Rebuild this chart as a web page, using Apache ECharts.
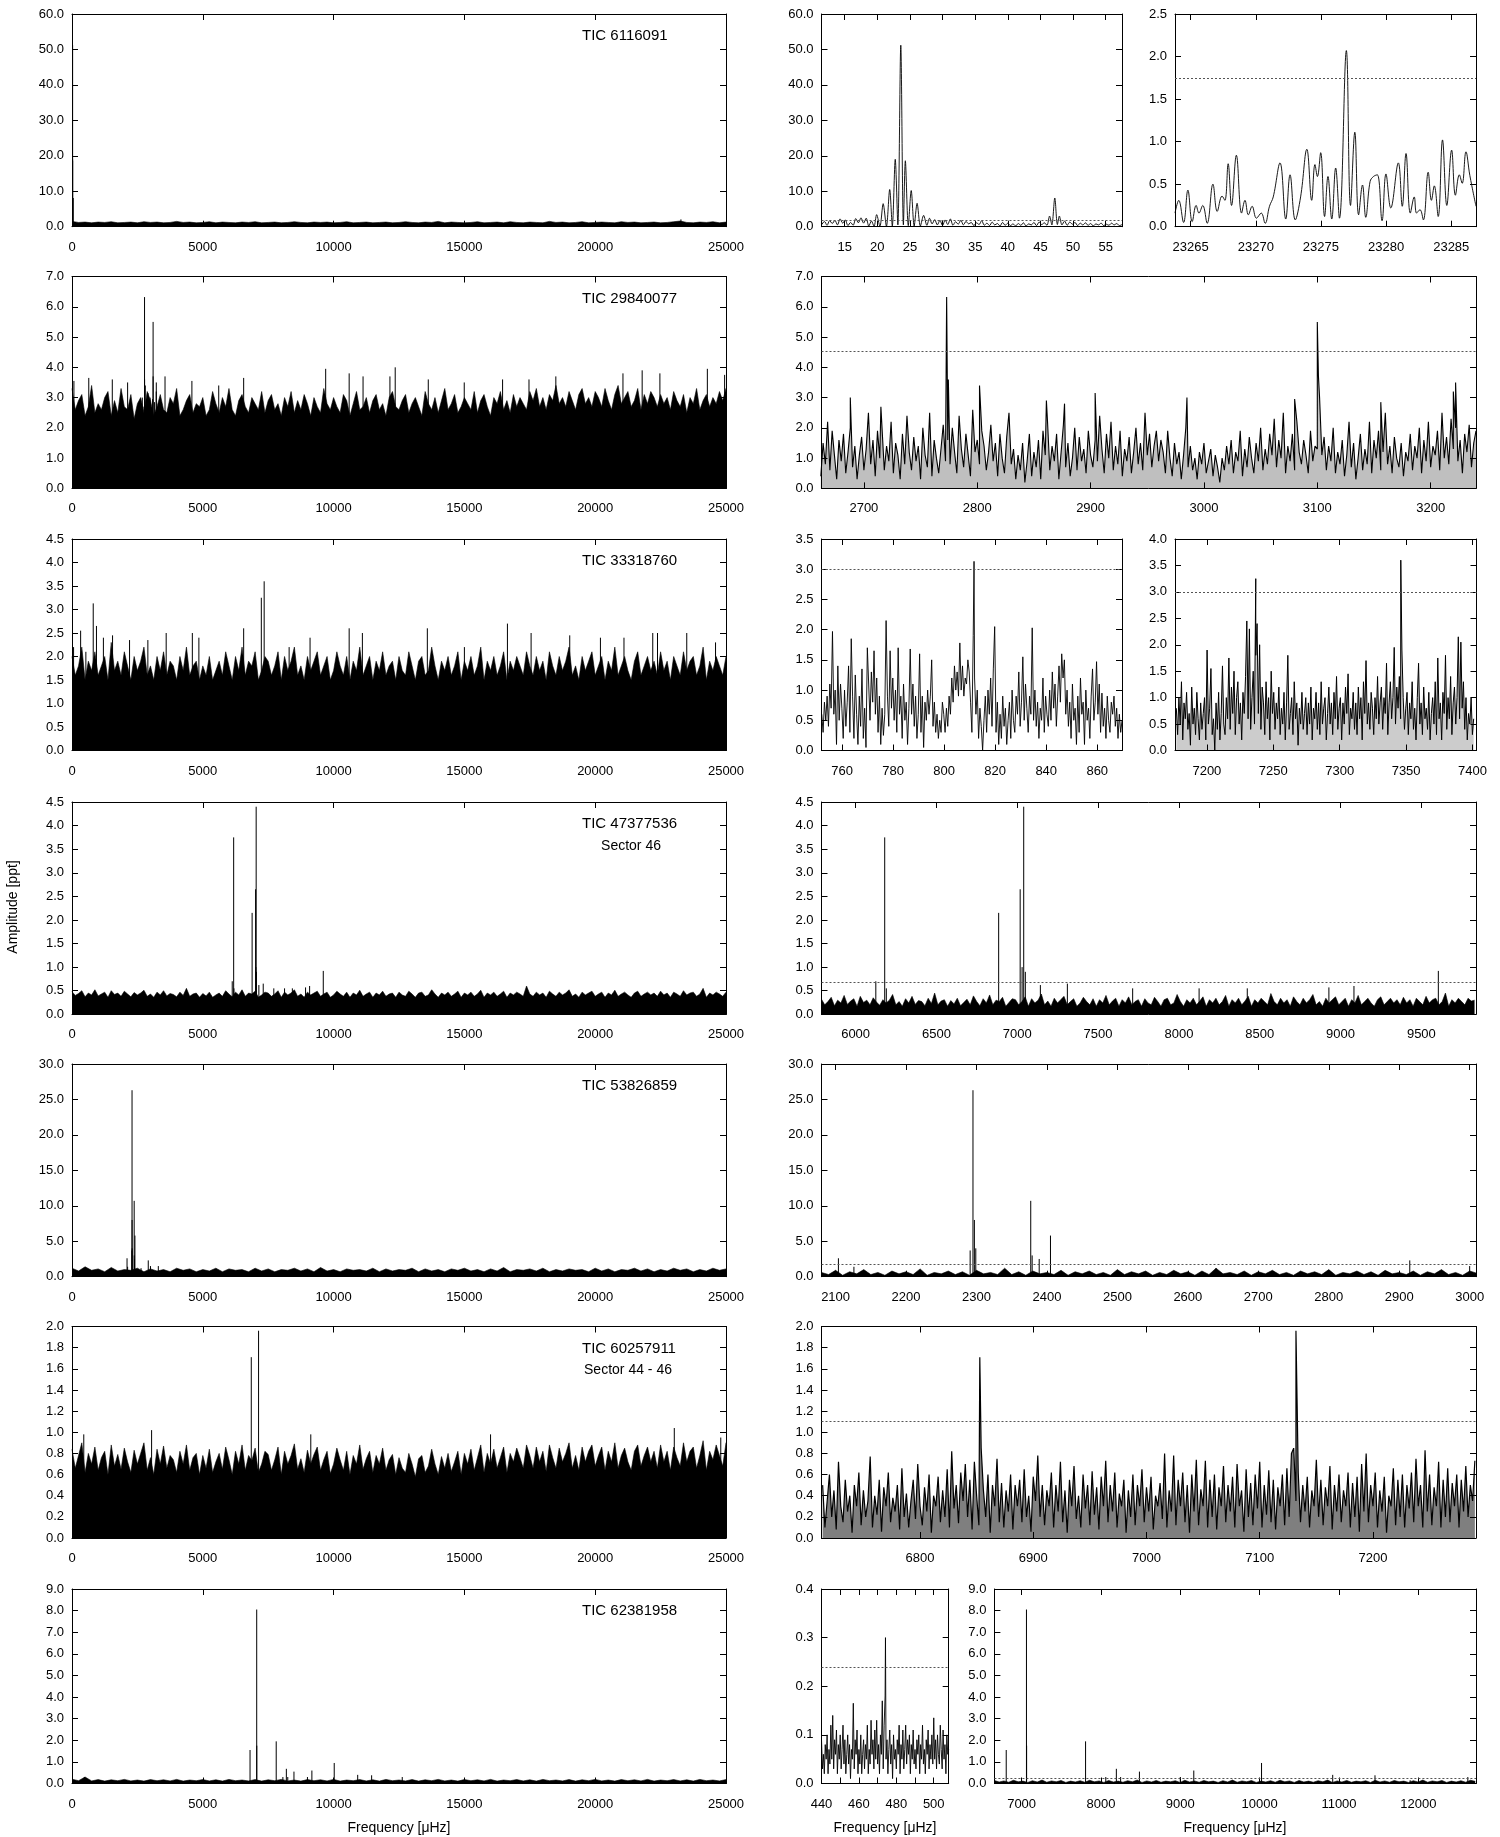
<!DOCTYPE html>
<html>
<head>
<meta charset="utf-8">
<title>Amplitude spectra</title>
<script src="https://cdn.jsdelivr.net/npm/echarts@6/dist/echarts.min.js"></script>
<style>
  html, body { margin: 0; padding: 0; background: #fff; }
  #chart { width: 1500px; height: 1837px; }
</style>
</head>
<body>
<div id="chart"></div>
<script>
// tick labels
var ticksFull = [0, 5000, 10000, 15000, 20000, 25000];
var ticks1a = [15, 20, 25, 30, 35, 40, 45, 50, 55];
var ticks1b = [23265, 23270, 23275, 23280, 23285];
var ticks2r = [2700, 2800, 2900, 3000, 3100, 3200];
var ticks3a = [760, 780, 800, 820, 840, 860];
var ticks3b = [7200, 7250, 7300, 7350, 7400];
var ticks4r = [6000, 6500, 7000, 7500, 8000, 8500, 9000, 9500];
var ticks5r = [2100, 2200, 2300, 2400, 2500, 2600, 2700, 2800, 2900, 3000];
var ticks6r = [6800, 6900, 7000, 7100, 7200];
var ticks7a = [440, 450, 460, 470, 480, 490, 500];
var labels7a = [440, 460, 480, 500];
var ticks7b = [7000, 8000, 9000, 10000, 11000, 12000];

// star names
var stars = ['TIC 6116091', 'TIC 29840077', 'TIC 33318760', 'TIC 47377536', 'TIC 53826859', 'TIC 60257911', 'TIC 62381958'];

// detection thresholds (dotted lines)
var thr1a = 1.88, thr1b = 1.75, thr2 = 4.53, thr3a = 3.0, thr3b = 3.0, thr4 = 0.67, thr5 = 1.7, thr6 = 1.1, thr7a = 0.243, thr7b = 0.23;

// ---- TIC 6116091 ----
var r1Env = [1.5,1.2,1.3,1.1,1.3,1.2,1.4,1.1,1.2,1.3,1.1,1.4,1.2,1.3,1.1,1.2,1.5,1.2,1.3,1.1,
  1.2,1.4,1.1,1.3,1.2,1.1,1.3,1.2,1.4,1.1,1.2,1.3,1.1,1.2,1.4,1.2,1.1,1.3,1.2,1.3,
  1.1,1.2,1.4,1.1,1.2,1.3,1.1,1.2,1.3,1.1,1.2,1.4,1.2,1.1,1.3,1.2,1.5,1.1,1.3,1.2,
  1.1,1.2,1.4,1.1,1.2,1.3,1.1,1.4,1.2,1.1,1.3,1.2,1.1,1.5,1.2,1.3,1.1,1.2,1.4,1.1,
  1.2,1.3,1.2,1.1,1.4,1.2,1.3,1.1,1.2,1.3,1.1,1.2,1.4,1.6,1.2,1.1,1.3,1.2,1.4,1.1,1.3];
var peaks1 = [[22.75,19.0],[23.6,51.2],[24.3,18.6],[47.2,8.1],[23277,2.06]];
var r1aF = [11.5,11.9,12.3,12.7,13.1,13.5,13.9,14.3,14.7,15.1,15.5,15.9,16.3,16.7,17.1,17.5,17.9,18.3,18.7,19.1,19.5,
  19.9,20.4,20.9,21.4,21.9,22.3,22.75,23.15,23.6,24.0,24.3,24.75,25.2,25.65,26.1,26.6,27.1,27.6,
  28.0,28.4,28.8,29.2,29.6,30.0,30.4,30.8,31.2,31.6,32.0,32.4,32.8,33.2,33.6,34.0,34.4,34.8,35.2,35.6,36.0,36.4,36.8,37.2,37.6,38.0,
  38.4,38.8,39.2,39.6,40.0,40.4,40.8,41.2,41.6,42.0,42.4,42.8,43.2,43.6,44.0,44.4,44.8,45.2,45.6,46.0,46.4,
  46.75,47.2,47.6,47.9,48.3,48.7,49.1,49.5,49.9,50.3,50.7,51.1,51.5,51.9,52.3,52.7,53.1,53.5,53.9,54.3,54.7,55.1,55.5,55.9,56.3,56.7,57.1,57.5];
var r1aA = [0.6,1.5,0.4,1.7,0.9,1.8,0.5,2.2,1.0,1.9,0.3,1.2,0.4,2.3,1.1,2.5,1.0,2.4,0.2,1.6,0.1,
  3.4,0.1,6.5,0.1,10.5,0.2,19.0,0.5,51.2,0.5,18.6,0.3,10.2,0.2,6.6,0.2,3.2,0.4,
  2.4,0.8,2.0,0.5,1.8,0.3,1.9,0.6,2.2,0.4,1.4,0.7,1.8,0.5,1.5,0.8,1.2,0.3,1.1,0.6,1.7,0.4,1.0,0.3,1.3,0.5,
  0.9,0.2,1.2,0.4,1.0,0.3,0.8,0.2,0.9,0.4,1.1,0.2,0.8,0.5,1.2,0.3,1.3,0.6,1.1,0.4,3.0,
  0.5,8.1,0.6,3.0,0.5,1.6,0.4,1.3,0.7,1.2,0.3,1.0,0.5,1.1,0.4,0.9,0.2,0.8,0.5,1.0,0.3,0.7,0.4,1.0,0.5,0.9,0.3,0.6];
var r1bF = [23263.80,23264.09,23264.46,23264.79,23265.12,23265.42,23265.64,23265.93,23266.27,23266.71,23267.04,23267.41,
  23267.63,23267.88,23268.14,23268.51,23268.91,23269.17,23269.43,23269.72,23270.05,23270.42,23270.72,23271.05,23271.34,
  23271.86,23272.30,23272.63,23273.03,23273.44,23273.92,23274.29,23274.54,23274.73,23274.98,23275.28,23275.54,23275.83,
  23276.13,23276.42,23276.95,23277.27,23277.60,23277.89,23278.19,23278.44,23278.77,23279.03,23279.33,23279.69,23279.99,
  23280.36,23280.94,23281.24,23281.53,23281.86,23282.16,23282.34,23282.60,23282.86,23283.23,23283.48,23283.70,23284.00,
  23284.33,23284.66,23285.03,23285.32,23285.62,23285.84,23286.13,23286.43,23286.90];
var r1bA = [0.16,0.31,0.05,0.43,0.06,0.25,0.16,0.25,0.04,0.50,0.18,0.36,
  0.31,0.74,0.25,0.84,0.16,0.31,0.14,0.24,0.10,0.16,0.04,0.24,0.35,
  0.75,0.09,0.61,0.08,0.35,0.91,0.31,0.73,0.59,0.87,0.12,0.59,0.09,
  0.69,0.10,2.07,0.25,1.11,0.14,0.49,0.11,0.53,0.59,0.61,0.07,0.62,
  0.22,0.75,0.24,0.86,0.16,0.35,0.16,0.20,0.08,0.64,0.31,0.48,0.12,
  1.02,0.25,0.90,0.37,0.61,0.51,0.88,0.60,0.24];

// ---- TIC 29840077 ----
var r2Env = [3.3,2.6,2.9,3.1,2.4,2.7,3.4,2.5,2.8,2.6,3.0,3.2,2.4,2.9,2.5,3.3,2.7,2.6,3.1,2.3,
  2.8,3.0,2.5,3.2,2.9,2.4,2.7,3.1,2.6,2.5,3.0,2.8,3.3,2.4,2.6,2.9,3.1,2.5,2.8,2.7,
  3.0,2.4,2.6,3.2,2.8,2.5,3.0,2.7,3.3,2.6,2.4,2.9,3.1,2.7,2.5,3.0,2.8,2.6,3.2,2.5,
  2.9,3.1,2.6,2.8,2.4,3.0,2.7,3.2,2.5,2.9,2.6,3.1,2.8,2.4,3.0,2.7,2.5,3.3,2.8,2.6,
  3.0,2.7,2.5,3.1,2.9,2.4,2.8,3.2,2.6,2.7,3.0,2.5,2.9,3.1,2.6,2.8,2.4,3.0,3.2,2.7,
  2.6,2.9,3.1,2.5,2.8,3.0,2.7,2.4,3.2,2.8,2.6,3.0,2.5,2.9,3.3,2.6,2.8,3.1,2.5,2.7,
  3.0,2.8,2.6,3.2,2.5,2.9,3.1,2.7,2.4,3.0,2.8,3.2,2.6,2.9,2.5,3.1,2.7,3.0,2.8,2.6,
  3.2,2.9,3.3,2.7,3.0,2.6,3.1,2.9,3.4,2.8,3.0,2.7,3.2,2.9,2.6,3.1,3.3,2.8,3.0,2.7,
  3.2,3.0,2.7,3.3,2.9,2.6,3.1,3.4,2.8,3.0,3.2,2.7,2.9,3.3,2.6,3.1,2.8,3.2,3.0,2.7,
  3.1,2.8,3.0,2.6,3.2,2.9,2.7,3.1,2.5,3.0,2.8,3.3,2.6,2.9,3.1,2.7,3.0,2.8,3.2,2.9,
  3.3,3.0];
var peaks2 = [[73,3.55],[641,3.65],[1540,3.6],[2126,3.5],[2688,3.0],[2715,2.7],[2773,6.32],[2774.5,3.6],[2802,3.4],
  [2861,2.9],[2877,2.8],[2904,3.15],[2985,3.0],[3080,2.95],[3100,5.5],[3101,3.7],[3156,2.85],[3220,3.2],[3222,3.5],
  [3556,3.7],[4583,3.55],[5609,3.4],[6562,3.65],[9697,3.95],[10595,3.8],[11126,3.7],[12153,3.7],[12355,4.0],
  [13619,3.6],[14994,3.5],[16460,3.6],[17469,3.6],[18495,3.7],[21061,3.8],[21795,3.9],[22473,3.8],[24287,3.95],[24947,3.75]];
var r2Zoom = [0.4,1.5,0.8,2.2,0.6,1.9,1.1,0.3,1.6,0.9,1.8,0.5,1.2,2.0,0.7,1.4,0.3,1.1,1.7,0.6,
  1.3,2.5,0.8,1.6,0.4,1.9,1.0,2.7,0.6,1.4,0.9,2.2,0.5,1.5,1.1,0.3,1.8,0.8,2.4,1.2,
  0.6,1.7,0.9,1.4,0.3,2.0,1.1,0.7,2.5,0.4,1.6,1.0,0.5,1.3,2.1,0.9,1.6,0.8,2.0,1.2,
  0.5,2.4,1.3,0.7,1.8,1.1,0.4,2.6,1.2,1.6,0.8,1.9,1.4,0.6,1.2,2.1,0.9,1.5,0.4,1.8,
  1.0,0.5,1.7,2.5,0.8,1.3,0.3,1.1,0.6,1.5,0.2,0.9,1.8,0.4,1.2,0.7,1.6,0.3,1.9,1.1,
  2.2,0.6,1.4,0.9,1.8,0.3,1.2,2.1,0.7,1.5,0.4,1.0,2.0,0.6,1.7,0.9,1.3,0.5,1.9,1.1,
  0.7,1.6,0.9,2.4,1.3,0.5,1.8,1.0,2.2,0.6,1.4,0.8,1.9,0.4,1.3,0.9,1.7,0.5,1.2,2.0,
  0.8,1.5,0.6,2.5,1.1,1.8,0.7,1.4,1.9,0.9,1.6,1.2,0.5,1.9,1.0,0.4,1.5,0.8,1.2,0.3,
  1.1,2.0,0.7,1.4,0.6,1.0,0.3,1.2,0.8,1.5,0.5,0.9,1.3,0.4,1.1,0.7,0.2,1.0,0.6,1.4,
  0.8,1.6,0.5,1.2,0.9,1.9,0.4,1.3,0.7,1.7,1.0,0.5,1.5,0.9,2.0,0.6,1.3,0.8,1.8,1.1,
  2.3,0.7,1.6,1.0,2.5,0.5,1.4,0.9,1.8,0.6,2.2,1.2,0.8,1.6,1.1,0.5,1.9,0.9,1.4,1.3,
  3.0,1.1,1.7,0.6,1.4,0.9,2.0,0.5,1.2,0.8,1.6,0.4,1.1,2.2,0.7,1.5,0.3,1.0,1.8,0.6,
  1.3,0.8,2.2,0.5,1.6,1.0,1.9,0.6,1.2,2.5,0.8,1.4,0.5,1.7,1.0,0.7,1.5,0.4,1.2,0.9,
  1.8,0.6,1.4,1.0,2.0,0.5,1.6,0.9,2.2,0.7,1.4,1.1,1.9,0.6,2.5,1.0,1.7,0.8,2.3,1.3,
  2.0,0.9,1.6,0.5,1.8,1.2,2.1,0.7,1.5,1.9];

// ---- TIC 33318760 ----
var r3Env = [2.0,1.6,1.8,2.2,1.5,1.9,1.7,2.1,1.6,1.8,2.0,1.5,2.3,1.7,1.9,1.6,2.1,1.8,1.5,2.0,
  1.7,1.9,2.2,1.6,1.8,1.5,2.0,1.7,2.1,1.6,1.9,1.8,1.5,2.0,1.7,2.2,1.6,1.8,1.9,1.5,
  1.8,1.6,2.0,1.5,1.7,1.9,1.6,2.1,1.8,1.5,2.0,1.7,2.2,1.6,1.9,1.8,2.1,1.5,1.7,2.0,
  1.9,1.6,1.8,2.1,1.5,2.0,1.7,1.9,2.2,1.6,1.8,1.5,2.0,1.7,1.9,2.1,1.6,1.8,2.0,1.5,
  1.7,2.1,1.8,1.6,2.0,1.5,1.9,1.7,2.2,1.6,1.8,2.0,1.5,1.9,1.7,2.1,1.6,1.8,1.9,1.5,
  2.0,1.7,1.6,2.1,1.8,1.5,1.9,2.0,1.6,1.7,2.2,1.8,1.5,1.9,1.7,2.0,1.6,1.8,2.1,1.5,
  1.9,1.7,2.0,1.6,1.8,2.2,1.5,1.9,1.7,2.0,1.6,1.8,2.1,1.5,1.9,1.7,2.0,1.8,1.6,2.1,
  1.8,1.6,2.0,1.7,1.9,1.5,2.1,1.8,1.6,2.0,1.7,1.9,2.2,1.6,1.8,1.5,2.0,1.7,1.9,2.1,
  1.6,1.8,2.0,1.5,1.9,1.7,2.2,1.6,1.8,2.0,1.7,1.5,1.9,2.1,1.6,1.8,2.0,1.7,1.9,1.6,
  2.1,1.7,1.9,1.5,2.0,1.8,1.6,2.1,1.7,1.9,2.0,1.6,1.8,2.2,1.5,1.9,1.7,2.0,1.8,1.6,
  2.0,1.9];
var peaks3 = [[60,2.2],[330,2.55],[530,2.1],[811.7,3.13],[935,2.65],[1200,2.4],[1550,2.45],[2200,2.35],[2900,2.35],
  [3600,2.5],[4600,2.5],[4850,2.4],[6562,2.6],[7236.8,3.25],[7346,3.6],[8300,2.2],[9100,2.4],[10595,2.6],[11100,2.5],
  [13583,2.6],[15000,2.2],[16645,2.7],[17550,2.5],[19027,2.45],[20200,2.4],[21100,2.4],[22200,2.5],[22382,2.5],[23500,2.5],[24600,2.3]];
var r3aVals = [0.6,0.3,0.8,0.5,0.9,0.4,1.1,0.7,1.97,0.6,1.0,0.1,1.4,0.5,1.1,0.7,0.2,1.0,0.4,0.8,
  1.4,0.3,1.85,0.9,0.2,1.25,0.6,0.1,0.9,0.4,1.35,0.2,0.7,0.05,1.7,1.1,0.5,1.3,0.8,1.65,
  0.6,1.2,0.3,0.9,0.1,0.7,0.25,0.6,2.15,0.9,0.4,1.65,0.7,1.2,0.5,1.0,0.3,1.7,0.6,0.9,
  0.2,1.1,0.5,0.8,0.1,0.7,1.68,0.6,1.1,0.4,0.9,0.2,0.6,1.6,0.3,0.9,0.05,0.8,0.5,1.0,
  0.6,0.9,1.5,0.4,0.8,0.3,0.6,0.2,0.5,0.3,0.8,0.6,0.3,0.7,0.4,0.9,0.6,1.2,0.8,1.4,
  1.0,1.3,0.9,1.78,1.0,1.4,0.9,1.2,1.1,1.5,1.3,0.8,0.3,1.9,1.2,0.6,1.0,0.2,0.7,0.4,
  0.0,0.5,0.9,0.3,1.0,0.6,1.2,0.4,1.35,2.05,0.3,0.8,0.1,0.6,0.2,0.9,0.4,0.7,0.1,0.5,
  0.8,0.2,1.0,0.5,0.3,0.9,0.6,1.3,0.4,0.8,1.55,0.5,1.1,0.7,0.3,0.9,0.6,2.03,0.5,1.0,
  0.4,0.8,0.2,0.7,0.5,1.2,0.3,0.9,0.6,0.4,1.0,0.5,1.3,0.7,1.1,0.4,0.9,1.4,0.8,1.6,
  1.2,1.5,0.6,1.0,0.4,0.8,0.2,1.1,0.5,0.7,0.1,0.9,0.3,1.2,0.6,0.8,0.1,1.0,0.5,0.7,
  0.2,0.9,1.35,0.5,0.8,1.47,0.6,1.1,0.3,0.95,0.4,0.7,0.2,0.9,0.5,0.3,0.8,0.6,0.9,0.4,
  0.7,0.2,0.6,0.3,0.5];
var r3bVals = [0.8,0.3,1.0,0.5,1.3,0.2,0.9,0.6,1.1,0.4,0.7,0.1,1.2,0.5,0.8,0.3,1.1,0.6,0.2,0.9,
  0.4,0.7,1.0,0.2,1.9,0.5,0.8,1.55,0.3,0.6,0.0,0.9,0.4,1.1,0.2,0.7,1.6,0.5,0.3,1.0,
  0.6,1.75,0.4,1.2,0.7,1.5,0.3,1.0,1.3,0.5,0.9,0.2,1.1,0.7,1.4,2.45,0.6,2.3,0.4,1.0,
  1.5,0.5,1.8,2.4,0.7,2.0,0.4,1.2,0.9,0.3,1.3,0.6,1.0,0.2,1.5,0.7,1.1,0.4,0.9,0.6,
  1.2,0.3,0.8,0.5,1.1,0.2,0.9,1.8,0.4,0.7,1.0,0.3,1.3,0.6,0.9,0.1,0.8,0.5,1.1,0.4,
  0.7,1.0,0.3,0.9,0.5,1.2,0.2,0.8,0.6,1.1,0.4,0.9,0.3,1.3,0.5,0.8,1.0,0.2,0.7,1.2,
  0.5,0.9,0.3,1.1,0.6,1.4,0.4,0.8,1.0,0.2,0.9,0.5,1.2,0.7,1.45,0.3,0.8,0.6,1.1,0.4,
  0.9,0.3,1.2,0.6,1.0,0.2,1.3,0.7,1.7,0.5,0.9,0.4,1.1,0.8,0.3,1.0,0.6,1.4,0.5,0.9,
  1.2,0.4,1.0,0.7,1.65,0.3,0.9,1.3,0.6,1.0,1.95,0.5,1.2,0.8,1.4,0.6,1.9,1.0,0.4,0.8,
  1.1,0.3,0.9,0.6,1.3,0.4,0.8,0.2,1.0,1.65,0.5,0.9,0.3,1.2,0.6,0.8,0.4,1.1,0.2,0.7,
  1.0,0.5,1.3,0.3,1.75,0.6,0.9,0.2,1.1,0.7,1.8,0.4,1.0,0.6,1.4,0.3,0.9,1.2,0.5,1.0,
  2.15,0.6,2.05,0.8,1.3,0.4,1.0,0.2,0.7,0.5,1.0,0.3,0.6];

// ---- TIC 47377536 ----
var r4Env = [0.48,0.4,0.44,0.5,0.37,0.45,0.41,0.52,0.39,0.43,0.47,0.36,0.5,0.42,0.45,0.38,0.49,0.43,0.37,0.46,
  0.41,0.45,0.51,0.38,0.43,0.36,0.47,0.41,0.5,0.39,0.44,0.42,0.37,0.47,0.4,0.55,0.38,0.43,0.45,0.36,
  0.44,0.39,0.47,0.36,0.41,0.45,0.38,0.5,0.43,0.37,0.47,0.41,0.52,0.38,0.45,0.43,0.49,0.36,0.41,0.47,
  0.45,0.38,0.43,0.5,0.36,0.47,0.41,0.45,0.52,0.38,0.43,0.36,0.47,0.41,0.45,0.49,0.38,0.43,0.47,0.36,
  0.41,0.49,0.43,0.38,0.47,0.36,0.45,0.41,0.51,0.38,0.43,0.47,0.36,0.45,0.41,0.49,0.38,0.43,0.45,0.36,
  0.47,0.41,0.38,0.49,0.43,0.36,0.45,0.47,0.38,0.41,0.52,0.43,0.36,0.45,0.41,0.47,0.38,0.43,0.49,0.36,
  0.45,0.41,0.47,0.38,0.43,0.51,0.36,0.45,0.41,0.47,0.38,0.43,0.49,0.36,0.45,0.41,0.47,0.43,0.38,0.6,
  0.43,0.38,0.47,0.41,0.45,0.36,0.49,0.43,0.38,0.47,0.41,0.45,0.52,0.38,0.43,0.36,0.47,0.41,0.45,0.49,
  0.38,0.43,0.47,0.36,0.45,0.41,0.51,0.38,0.43,0.47,0.41,0.36,0.45,0.49,0.38,0.43,0.47,0.41,0.45,0.38,
  0.49,0.41,0.45,0.36,0.47,0.43,0.38,0.5,0.41,0.45,0.47,0.38,0.43,0.55,0.36,0.45,0.41,0.47,0.43,0.38,
  0.47,0.44];
var r4rEnv = [0.32,0.2,0.27,0.36,0.18,0.3,0.24,0.4,0.21,0.28,0.33,0.17,0.38,0.25,0.3,0.2,0.35,0.26,0.19,0.31,
  0.24,0.3,0.42,0.2,0.27,0.17,0.33,0.24,0.38,0.21,0.29,0.27,0.18,0.34,0.23,0.45,0.2,0.28,0.31,0.17,
  0.29,0.22,0.34,0.18,0.25,0.32,0.2,0.39,0.27,0.18,0.33,0.24,0.41,0.2,0.3,0.27,0.36,0.17,0.25,0.33,
  0.31,0.2,0.27,0.37,0.17,0.33,0.24,0.3,0.43,0.2,0.28,0.17,0.34,0.24,0.31,0.38,0.2,0.27,0.33,0.17,
  0.24,0.36,0.27,0.2,0.33,0.17,0.31,0.24,0.4,0.2,0.28,0.34,0.17,0.31,0.24,0.37,0.2,0.27,0.31,0.17,
  0.33,0.24,0.2,0.36,0.27,0.17,0.31,0.34,0.2,0.24,0.42,0.27,0.17,0.31,0.24,0.34,0.2,0.28,0.37,0.17,
  0.31,0.24,0.34,0.2,0.27,0.4,0.17,0.31,0.24,0.34,0.2,0.28,0.38,0.17,0.31,0.24,0.34,0.27,0.2,0.44,
  0.27,0.2,0.34,0.24,0.31,0.17,0.37,0.27,0.2,0.34,0.24,0.31,0.42,0.2,0.27,0.17,0.34,0.24,0.31,0.37,
  0.2,0.27,0.34,0.17,0.31,0.24,0.4,0.2,0.27,0.34,0.24,0.17,0.31,0.37,0.2,0.27,0.34,0.24,0.31,0.2,
  0.36,0.24,0.31,0.17,0.34,0.27,0.2,0.38,0.24,0.31,0.34,0.2,0.27,0.45,0.17,0.31,0.24,0.34,0.27,0.2,
  0.34,0.28,0.3];
var peaks4 = [[6125,0.7],[6180,3.75],[6190,0.55],[6885,2.15],[7018,2.65],[7030,1.0],[7040,4.4],[7050,0.9],
  [7143,0.62],[7310,0.65],[7714,0.55],[8125,0.55],[8423,0.55],[8928,0.57],[9083,0.6],[9605,0.92]];

// ---- TIC 53826859 ----
var r5Env = [1.2,0.8,1.4,0.9,1.1,0.7,1.3,0.8,1.0,0.9,1.2,0.7,1.1,0.8,1.0,0.7,1.2,0.9,1.1,0.7,
  1.0,0.8,1.2,0.7,1.1,0.9,1.0,0.7,1.2,0.8,1.1,0.7,1.0,0.9,1.2,0.8,1.1,0.7,1.3,0.8,
  1.0,0.7,1.1,0.9,1.0,0.8,1.2,0.7,1.1,0.8,1.0,0.9,1.2,0.7,1.1,0.8,1.0,0.7,1.1,0.9,
  1.2,0.8,1.0,0.7,1.1,0.8,1.3,0.7,1.0,0.9,1.1,0.8,1.2,0.7,1.0,0.8,1.1,0.9,1.0,0.7,
  1.2,0.8,1.1,0.7,1.0,0.9,1.2,0.8,1.1,0.7,1.0,0.8,1.2,0.9,1.1,0.7,1.0,0.8,1.2,0.9,1.1];
var r5rEnv = [0.6,0.3,0.9,0.2,0.7,0.4,1.0,0.3,0.6,0.2,0.8,0.4,0.7,0.3,1.1,0.2,0.6,0.4,0.8,0.3,
  0.7,0.2,0.9,0.4,0.6,0.3,1.2,0.3,0.7,0.2,0.8,0.4,0.6,0.3,0.9,0.2,0.7,0.4,0.8,0.3,
  0.6,0.2,1.0,0.3,0.7,0.4,0.8,0.2,0.6,0.3,0.9,0.4,0.7,0.2,0.8,0.3,1.2,0.4,0.6,0.3,
  0.8,0.2,0.7,0.4,0.9,0.3,0.6,0.2,0.8,0.4,0.7,0.3,1.0,0.2,0.6,0.4,0.8,0.3,0.7,0.2,
  0.9,0.4,0.6,0.3,0.8,0.2,0.7,0.4,1.0,0.3,0.6,0.2,0.8,0.5];
var peaks5 = [[2104,2.6],[2126,1.4],[2291,3.7],[2295,26.3],[2297,8.0],[2299,4.0],[2377,10.7],[2379,3.0],
  [2389,2.5],[2405,5.8],[2640,1.2],[2915,2.3],[3000,1.5],[3300,1.5]];

// ---- TIC 60257911 ----
var r6Env = [0.84,0.66,0.78,0.9,0.62,0.8,0.7,0.86,0.64,0.76,0.82,0.6,0.88,0.68,0.79,0.65,0.85,0.72,0.62,0.83,
  0.7,0.8,0.9,0.64,0.76,0.6,0.84,0.7,0.87,0.66,0.78,0.74,0.62,0.82,0.7,0.88,0.64,0.76,0.8,0.6,
  0.78,0.66,0.84,0.62,0.72,0.8,0.65,0.86,0.74,0.6,0.82,0.7,0.88,0.64,0.78,0.73,0.85,0.62,0.7,0.82,
  0.79,0.64,0.74,0.86,0.6,0.82,0.7,0.78,0.89,0.65,0.75,0.62,0.83,0.7,0.79,0.86,0.64,0.74,0.82,0.61,
  0.7,0.85,0.74,0.64,0.82,0.6,0.78,0.7,0.88,0.65,0.75,0.82,0.62,0.78,0.7,0.85,0.64,0.74,0.79,0.6,
  0.76,0.66,0.62,0.8,0.7,0.58,0.75,0.78,0.62,0.68,0.84,0.7,0.6,0.77,0.66,0.8,0.63,0.72,0.82,0.6,
  0.8,0.7,0.84,0.64,0.76,0.88,0.62,0.8,0.7,0.84,0.66,0.76,0.86,0.62,0.8,0.72,0.85,0.76,0.66,0.88,
  0.78,0.66,0.86,0.72,0.82,0.63,0.88,0.76,0.66,0.85,0.72,0.8,0.9,0.66,0.78,0.64,0.86,0.72,0.82,0.88,
  0.68,0.78,0.86,0.64,0.82,0.72,0.9,0.66,0.78,0.85,0.72,0.64,0.82,0.88,0.68,0.78,0.86,0.72,0.82,0.66,
  0.88,0.72,0.82,0.64,0.86,0.76,0.68,0.9,0.72,0.82,0.86,0.66,0.78,0.92,0.64,0.82,0.74,0.88,0.78,0.68,
  0.9,0.85];
var peaks6 = [[450,0.98],[3043,1.02],[6852.8,1.71],[7132,1.96],[9128,0.98],[16000,0.98],[23023,1.04],[24800,0.95]];
var r6Zoom = [0.5,0.1,0.35,0.6,0.2,0.45,0.08,0.72,0.3,0.15,0.55,0.25,0.4,0.05,0.5,0.3,0.62,0.12,0.45,0.2,
  0.35,0.77,0.1,0.4,0.22,0.55,0.06,0.48,0.3,0.62,0.15,0.38,0.25,0.5,0.08,0.66,0.2,0.42,0.1,0.35,
  0.55,0.18,0.7,0.3,0.12,0.48,0.25,0.6,0.05,0.4,0.3,0.58,0.15,0.45,0.2,0.65,0.1,0.82,0.28,0.5,
  0.14,0.62,0.35,0.7,0.2,0.55,0.08,0.72,0.4,0.12,0.85,0.45,0.2,0.6,0.05,0.5,0.3,0.75,0.15,0.52,
  0.1,0.45,0.25,0.6,0.08,0.5,0.3,0.55,0.15,0.65,0.2,0.4,0.06,0.58,0.35,0.78,0.2,0.5,0.12,0.45,
  0.3,0.62,0.1,0.5,0.25,0.72,0.15,0.45,0.05,0.55,0.3,0.68,0.18,0.4,0.1,0.6,0.28,0.5,0.12,0.63,
  0.22,0.48,0.08,0.58,0.3,0.73,0.15,0.5,0.25,0.62,0.1,0.42,0.3,0.55,0.05,0.45,0.2,0.6,0.12,0.5,
  0.3,0.65,0.15,0.48,0.25,0.58,0.08,0.4,0.3,0.52,0.18,0.8,0.1,0.45,0.25,0.78,0.12,0.55,0.3,0.62,
  0.15,0.5,0.05,0.6,0.25,0.74,0.12,0.46,0.3,0.73,0.1,0.55,0.2,0.6,0.08,0.48,0.3,0.68,0.15,0.5,
  0.25,0.58,0.1,0.7,0.3,0.45,0.06,0.65,0.2,0.52,0.12,0.6,0.28,0.72,0.1,0.5,0.22,0.64,0.15,0.55,
  0.08,0.48,0.3,0.6,0.12,0.66,0.2,0.8,0.85,0.35,0.62,0.15,0.5,0.25,0.58,0.1,0.45,0.3,0.74,0.2,
  0.55,0.12,0.48,0.3,0.68,0.08,0.5,0.25,0.6,0.15,0.45,0.3,0.62,0.1,0.52,0.2,0.58,0.06,0.7,0.25,
  0.8,0.15,0.5,0.3,0.62,0.1,0.45,0.25,0.58,0.05,0.4,0.3,0.66,0.12,0.55,0.2,0.6,0.1,0.5,0.28,
  0.62,0.15,0.75,0.3,0.5,0.1,0.83,0.25,0.6,0.12,0.48,0.3,0.72,0.1,0.55,0.2,0.66,0.15,0.52,0.3,
  0.6,0.1,0.55,0.25,0.68,0.2,0.5,0.35,0.73];

// ---- TIC 62381958 ----
var r7Env = [0.2,0.13,0.3,0.12,0.18,0.11,0.17,0.13,0.19,0.12,0.16,0.11,0.18,0.13,0.17,0.12,0.19,0.11,0.16,0.13,
  0.18,0.12,0.17,0.11,0.19,0.13,0.16,0.12,0.18,0.11,0.17,0.13,0.19,0.12,0.16,0.11,0.18,0.13,0.17,0.12,
  0.19,0.11,0.16,0.13,0.18,0.12,0.17,0.11,0.19,0.13,0.16,0.12,0.18,0.11,0.17,0.13,0.19,0.12,0.16,0.11,
  0.18,0.13,0.17,0.12,0.19,0.11,0.16,0.13,0.18,0.12,0.17,0.11,0.19,0.13,0.16,0.12,0.18,0.11,0.17,0.13,
  0.19,0.12,0.16,0.11,0.18,0.13,0.17,0.12,0.19,0.11,0.16,0.13,0.18,0.12,0.17,0.11,0.19,0.13,0.16,0.12,0.18];
var r7aVals = [0.09,0.03,0.06,0.02,0.08,0.05,0.1,0.02,0.07,0.04,0.12,0.05,0.14,0.03,0.09,0.06,0.11,0.02,0.08,0.05,
  0.1,0.03,0.07,0.12,0.04,0.09,0.02,0.06,0.1,0.04,0.08,0.01,0.07,0.05,0.165,0.03,0.09,0.06,0.11,0.02,
  0.07,0.04,0.1,0.02,0.06,0.09,0.03,0.08,0.05,0.12,0.02,0.07,0.04,0.13,0.06,0.09,0.03,0.11,0.05,0.13,
  0.04,0.08,0.02,0.1,0.06,0.17,0.03,0.12,0.18,0.05,0.09,0.02,0.07,0.11,0.04,0.08,0.01,0.1,0.05,0.07,
  0.03,0.09,0.06,0.12,0.02,0.08,0.05,0.11,0.03,0.07,0.12,0.04,0.09,0.06,0.1,0.02,0.08,0.05,0.11,0.04,
  0.07,0.03,0.09,0.06,0.1,0.02,0.08,0.05,0.12,0.04,0.07,0.02,0.09,0.06,0.11,0.03,0.08,0.05,0.1,0.04,
  0.135,0.05,0.09,0.03,0.1,0.06,0.04,0.12,0.07,0.03,0.11,0.05,0.08,0.02,0.1,0.06,0.07];
var r7bEnv = [0.14,0.07,0.12,0.06,0.15,0.08,0.11,0.05,0.13,0.07,0.16,0.06,0.12,0.08,0.14,0.05,0.11,0.07,0.13,0.06,
  0.15,0.08,0.12,0.05,0.14,0.07,0.11,0.06,0.13,0.08,0.16,0.05,0.12,0.07,0.14,0.06,0.11,0.08,0.13,0.05,
  0.15,0.07,0.12,0.06,0.14,0.08,0.11,0.05,0.13,0.07,0.16,0.06,0.12,0.08,0.14,0.05,0.11,0.07,0.13,0.06,
  0.15,0.08,0.12,0.05,0.14,0.07,0.11,0.06,0.13,0.08,0.16,0.05,0.12,0.07,0.14,0.06,0.11,0.08,0.13,0.05,
  0.15,0.07,0.12,0.06,0.14,0.08,0.11,0.05,0.13,0.07,0.16,0.06,0.12,0.08,0.14,0.05,0.11,0.07,0.13,0.06,0.15,0.1];
var peaks7 = [[474.2,0.3],[6806,1.55],[7061,8.05],[7063,1.75],[7806,1.95],[8061,0.3],[8194,0.68],[8248,0.3],
  [8485,0.55],[9000,0.3],[9170,0.6],[10024,0.95],[10921,0.4],[11454,0.38],[11897,0.15],[12624,0.3]];

var FONT = '"Liberation Sans", Arial, Helvetica, sans-serif';
var chart = echarts.init(document.getElementById('chart'), null, { renderer: 'canvas' });
var option = { animation: false, backgroundColor: '#fff', grid: [], xAxis: [], yAxis: [], series: [], graphic: [] };

function inRange(p, lo, hi) { return p[0] >= lo && p[0] <= hi; }

// evenly spaced spectrum samples, optionally with the peaks merged in
function spectrum(start, step, vals, peaks, lo, hi) {
  var pts = [];
  for (var i = 0; i < vals.length; i++) pts.push([start + i * step, vals[i]]);
  (peaks || []).forEach(function (p) { if (inRange(p, lo, hi)) pts.push([p[0], p[1]]); });
  pts.sort(function (a, b) { return a[0] - b[0]; });
  return pts;
}
// unresolved peaks drawn as thin sticks from the baseline
function sticks(peaks, lo, hi) {
  var pts = [];
  peaks.forEach(function (p) {
    if (!inRange(p, lo, hi)) return;
    pts.push([p[0], 0], [p[0], p[1]], [p[0], '-']);
  });
  return pts;
}
function pairs(xs, ys) {
  var pts = [];
  for (var i = 0; i < Math.min(xs.length, ys.length); i++) pts.push([xs[i], ys[i]]);
  return pts;
}

function addPanel(p) {
  var gi = option.grid.length;
  option.grid.push({ left: p.box[0], top: p.box[1], width: p.box[2], height: p.box[3], outerBoundsMode: 'none' });
  var line = { show: true, onZero: false, lineStyle: { color: '#000', width: 1 } };
  var tick = { show: true, inside: true, length: 6, lineStyle: { color: '#000', width: 1 } };
  var lab = { color: '#000', fontFamily: FONT, fontSize: 13 };
  var xl = p.xLabels || p.xTicks;
  ['bottom', 'top'].forEach(function (pos) {
    option.xAxis.push({
      type: 'value', gridIndex: gi, position: pos, min: p.xr[0], max: p.xr[1],
      axisLine: line, splitLine: { show: false },
      axisTick: Object.assign({ customValues: p.xTicks }, tick),
      axisLabel: pos === 'bottom'
        ? Object.assign({ customValues: xl, margin: 14, formatter: function (v) { return String(v); } }, lab)
        : { show: false }
    });
  });
  ['left', 'right'].forEach(function (pos) {
    option.yAxis.push({
      type: 'value', gridIndex: gi, position: pos, min: 0, max: p.yr[0], interval: p.yr[1],
      axisLine: line, splitLine: { show: false }, axisTick: tick,
      axisLabel: pos === 'left'
        ? Object.assign({ margin: 8, formatter: function (v) { return Number(v).toFixed(1); } }, lab)
        : { show: false }
    });
  });
  var xi = option.xAxis.length - 2, yi = option.yAxis.length - 2;
  var s = {
    type: 'line', xAxisIndex: xi, yAxisIndex: yi,
    data: p.data, symbol: 'none', showSymbol: false, smooth: p.smooth || false, silent: true, clip: true,
    lineStyle: { color: '#000', width: p.lw || 0.8 }
  };
  if (p.fill) s.areaStyle = { color: '#000', opacity: p.fill };
  if (p.thr != null) {
    s.markLine = { silent: true, symbol: ['none', 'none'], label: { show: false }, emphasis: { disabled: true },
      lineStyle: { color: '#555', type: [2, 2], width: 1 }, data: [{ yAxis: p.thr }] };
  }
  option.series.push(s);
  if (p.sticks) {
    option.series.push({
      type: 'line', xAxisIndex: xi, yAxisIndex: yi, data: p.sticks, symbol: 'none', showSymbol: false,
      connectNulls: false, silent: true, clip: true, lineStyle: { color: '#000', width: 1 }
    });
  }
}

var L = 72, LW = 654, R = 821.5, RW = 654.5;
var rows = [[14, 212.7], [276.5, 211.9], [539, 211.5], [802, 212.3], [1064, 212.7], [1326.5, 211.5], [1589, 194.5]];

// row 1
addPanel({ box: [L, rows[0][0], LW, rows[0][1]], xr: [0, 25000], xTicks: ticksFull, yr: [60, 10], fill: 1, lw: 0.6,
  data: spectrum(0, 250, r1Env, null), sticks: sticks(peaks1, 0, 25000) });
addPanel({ box: [R, rows[0][0], 300.5, rows[0][1]], xr: [11.45, 57.5], xTicks: ticks1a, yr: [60, 10], smooth: 0.3, lw: 0.9, thr: thr1a,
  data: pairs(r1aF, r1aA) });
addPanel({ box: [1175, rows[0][0], 301, rows[0][1]], xr: [23263.8, 23286.9], xTicks: ticks1b, yr: [2.5, 0.5], smooth: 0.4, lw: 0.9, thr: thr1b,
  data: pairs(r1bF, r1bA) });
// row 2
addPanel({ box: [L, rows[1][0], LW, rows[1][1]], xr: [0, 25000], xTicks: ticksFull, yr: [7, 1], fill: 1, lw: 0.6,
  data: spectrum(0, 125, r2Env, null), sticks: sticks(peaks2, 0, 25000) });
addPanel({ box: [R, rows[1][0], RW, rows[1][1]], xr: [2662.6, 3240], xTicks: ticks2r, yr: [7, 1], thr: thr2, lw: 1.1, fill: 0.25,
  data: spectrum(2662, 2, r2Zoom, peaks2, 2662.6, 3240) });
// row 3
addPanel({ box: [L, rows[2][0], LW, rows[2][1]], xr: [0, 25000], xTicks: ticksFull, yr: [4.5, 0.5], fill: 1, lw: 0.6,
  data: spectrum(0, 125, r3Env, null), sticks: sticks(peaks3, 0, 25000) });
addPanel({ box: [R, rows[2][0], 300.5, rows[2][1]], xr: [751.9, 869.7], xTicks: ticks3a, yr: [3.5, 0.5], thr: thr3a, lw: 0.9,
  data: spectrum(752, 0.5255, r3aVals, peaks3, 751.9, 869.7) });
addPanel({ box: [1175, rows[2][0], 301.5, rows[2][1]], xr: [7176, 7403], xTicks: ticks3b, yr: [4, 0.5], thr: thr3b, lw: 1.0, fill: 0.2,
  data: spectrum(7177, 0.965, r3bVals, peaks3, 7176, 7403) });
// row 4
addPanel({ box: [L, rows[3][0], LW, rows[3][1]], xr: [0, 25000], xTicks: ticksFull, yr: [4.5, 0.5], fill: 1, lw: 0.6,
  data: spectrum(0, 125, r4Env, null), sticks: sticks(peaks4, 0, 25000) });
addPanel({ box: [R, rows[3][0], RW, rows[3][1]], xr: [5789, 9838], xTicks: ticks4r, yr: [4.5, 0.5], fill: 1, lw: 0.6, thr: thr4,
  data: spectrum(5789, 20, r4rEnv, null), sticks: sticks(peaks4, 5789, 9838) });
// row 5
addPanel({ box: [L, rows[4][0], LW, rows[4][1]], xr: [0, 25000], xTicks: ticksFull, yr: [30, 5], fill: 1, lw: 0.6,
  data: spectrum(0, 250, r5Env, null), sticks: sticks(peaks5, 0, 25000) });
addPanel({ box: [R, rows[4][0], RW, rows[4][1]], xr: [2080, 3009], xTicks: ticks5r, yr: [30, 5], fill: 1, lw: 0.6, thr: thr5,
  data: spectrum(2080, 10, r5rEnv, null), sticks: sticks(peaks5, 2080, 3009) });
// row 6
addPanel({ box: [L, rows[5][0], LW, rows[5][1]], xr: [0, 25000], xTicks: ticksFull, yr: [2, 0.2], fill: 1, lw: 0.6,
  data: spectrum(0, 125, r6Env, null), sticks: sticks(peaks6, 0, 25000) });
addPanel({ box: [R, rows[5][0], RW, rows[5][1]], xr: [6713, 7291], xTicks: ticks6r, yr: [2, 0.2], thr: thr6, lw: 1.2, fill: 0.5,
  data: spectrum(6714, 2, r6Zoom, peaks6, 6713, 7291) });
// row 7
addPanel({ box: [L, rows[6][0], LW, rows[6][1]], xr: [0, 25000], xTicks: ticksFull, yr: [9, 1], fill: 1, lw: 0.6,
  data: spectrum(0, 250, r7Env, null), sticks: sticks(peaks7, 0, 25000) });
addPanel({ box: [R, rows[6][0], 127.2, rows[6][1]], xr: [440, 508], xTicks: ticks7a, xLabels: labels7a, yr: [0.4, 0.1], thr: thr7a, lw: 0.9,
  data: spectrum(440, 0.5, r7aVals, peaks7, 440, 508) });
addPanel({ box: [994.4, rows[6][0], 481.6, rows[6][1]], xr: [6657, 12727], xTicks: ticks7b, yr: [9, 1], fill: 1, lw: 0.6, thr: thr7b,
  data: spectrum(6657, 60, r7bEnv, null), sticks: sticks(peaks7, 6657, 12727) });

// texts
function text(str, x, y, size, align, rot) {
  option.graphic.push({ type: 'text', x: x, y: y, rotation: rot || 0, silent: true,
    style: { text: str, font: size + 'px ' + FONT, fill: '#000', align: align || 'left', verticalAlign: 'middle' } });
}
stars.forEach(function (name, i) { text(name, 582, rows[i][0] + 22, 15); });
text('Sector 46', 631, rows[3][0] + 44, 14, 'center');
text('Sector 44 - 46', 628, rows[5][0] + 44, 14, 'center');
text('Amplitude [ppt]', 13, 907, 14, 'center', Math.PI / 2);
text('Frequency [\u03bcHz]', 399, 1828, 14, 'center');
text('Frequency [\u03bcHz]', 885, 1828, 14, 'center');
text('Frequency [\u03bcHz]', 1235, 1828, 14, 'center');

chart.setOption(option);
</script>
</body>
</html>
